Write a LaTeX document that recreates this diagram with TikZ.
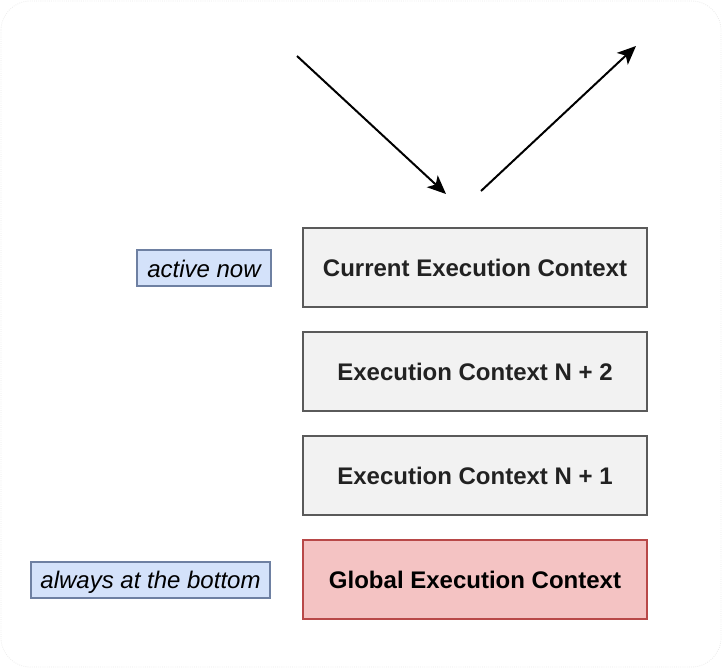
\documentclass[tikz,border=0pt]{standalone}
\usepackage{fontspec}
\setmainfont{Liberation Sans}
\usetikzlibrary{arrows.meta}
\definecolor{ctxfill}{HTML}{F2F2F2}
\definecolor{ctxdraw}{HTML}{5A5A5A}
\definecolor{ctxtext}{HTML}{222222}
\definecolor{notefill}{HTML}{D4E2FA}
\definecolor{notedraw}{HTML}{6E80A2}
\definecolor{globfill}{HTML}{F4C3C3}
\definecolor{globdraw}{HTML}{B84848}
\tikzset{
  ctxbox/.style={draw=ctxdraw, fill=ctxfill, line width=1.5pt, minimum width=258pt, minimum height=59pt, inner sep=0pt,
    text height=16pt, text depth=2.5pt,
    font=\fontsize{18pt}{21pt}\selectfont\bfseries, text=ctxtext},
  globbox/.style={ctxbox, draw=globdraw, fill=globfill, text=black},
  notebox/.style={draw=notedraw, fill=notefill, line width=1.5pt, minimum height=27pt, inner sep=0pt,
    text height=16pt, text depth=2.5pt,
    font=\fontsize{18pt}{21pt}\selectfont\itshape, text=black},
  flow/.style={draw=black, line width=1.5pt, -{Stealth[length=14pt, width=12pt, inset=3.5pt]}}
}
\begin{document}
\begin{tikzpicture}[x=0.75pt, y=-0.75pt]
\useasboundingbox (0,0) rectangle (722,668);
\draw[fill=white, draw=black!8, densely dotted, line width=0.6pt, rounded corners=22pt] (1,1) rectangle (721,667);
\node[ctxbox] (cur) at (475,267.5) {Current Execution Context};
\node[ctxbox] (n2) at (475,371.5) {Execution Context N + 2};
\node[ctxbox] (n1) at (475,475.5) {Execution Context N + 1};
\node[globbox] (glob) at (475,579.5) {Global Execution Context};
\node[notebox, minimum width=100.5pt] (active) at (204,268) {active now};
\node[notebox, minimum width=179pt] (always) at (150.5,579.5) {always at the bottom};
\coordinate (inStart) at (297,56);
\coordinate (inEnd) at (446,194);
\coordinate (outStart) at (481,191);
\coordinate (outEnd) at (636,46);
\draw[flow] (inStart) -- (inEnd);
\draw[flow] (outStart) -- (outEnd);
\end{tikzpicture}
\end{document}
